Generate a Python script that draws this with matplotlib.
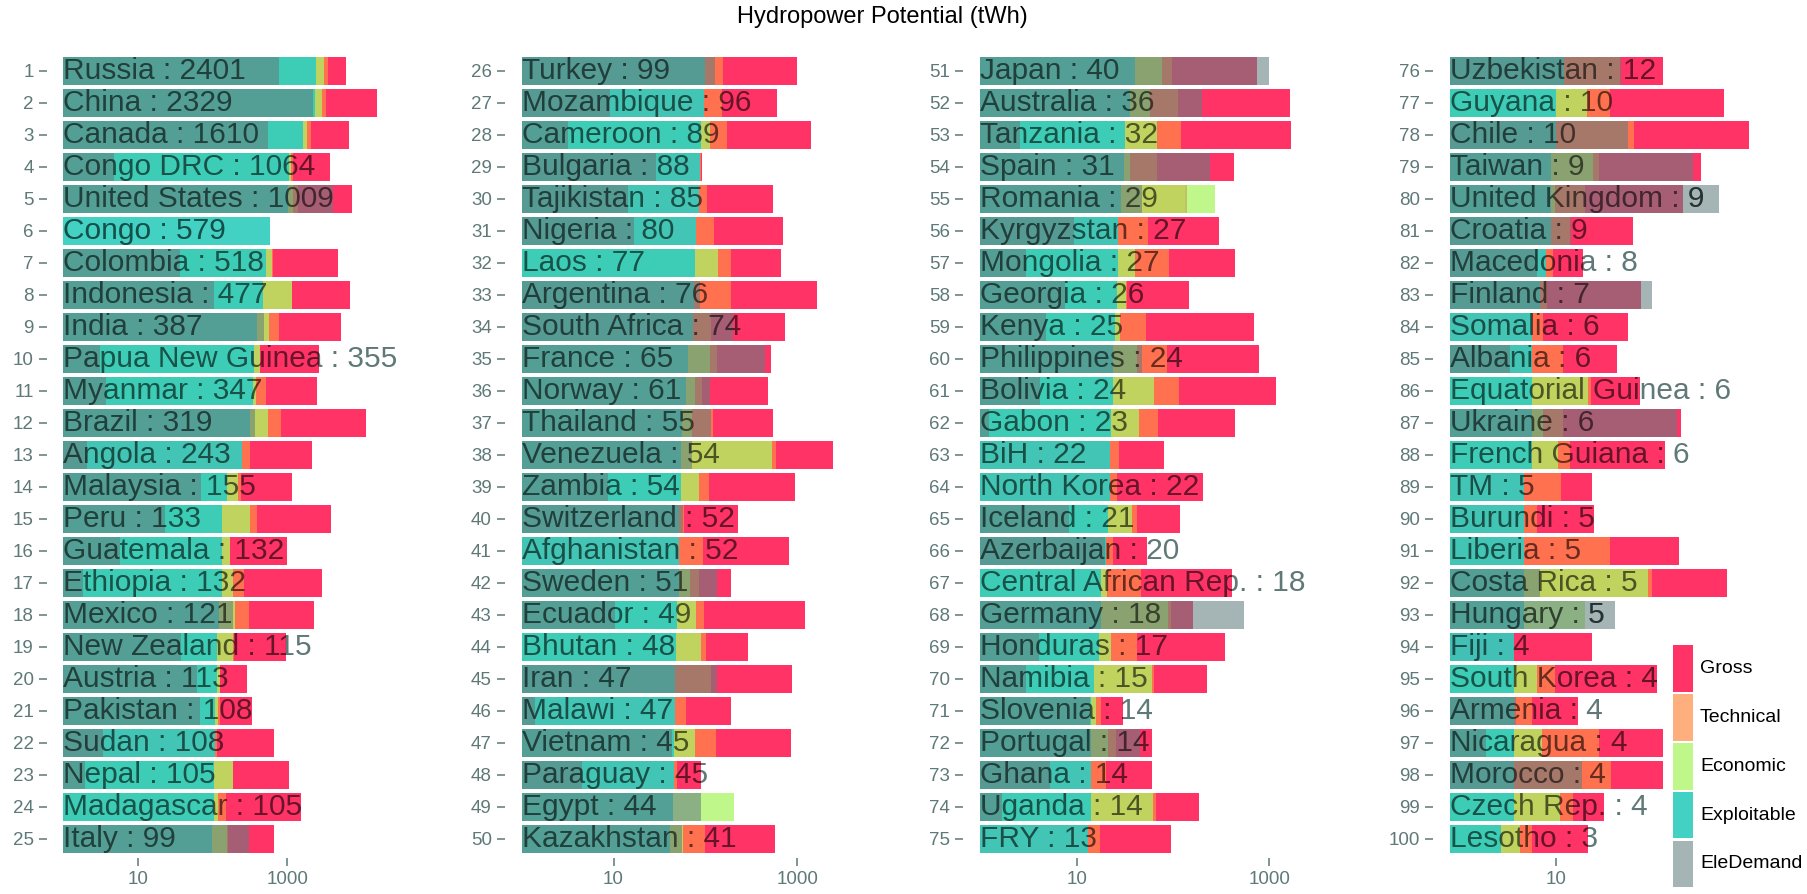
import matplotlib
matplotlib.use("Agg")
import matplotlib.pyplot as plt
from matplotlib.patches import Rectangle

plt.rcParams["font.family"] = ["Liberation Sans", "DejaVu Sans"]

# ── data (TWh), ranked by exploitable potential; None = not shown ─────────────
countries = [
    "Russia", "China", "Canada", "Congo DRC", "United States", "Congo", "Colombia",
    "Indonesia", "India", "Papua New Guinea", "Myanmar", "Brazil", "Angola",
    "Malaysia", "Peru", "Guatemala", "Ethiopia", "Mexico", "New Zealand", "Austria",
    "Pakistan", "Sudan", "Nepal", "Madagascar", "Italy",
    "Turkey", "Mozambique", "Cameroon", "Bulgaria", "Tajikistan", "Nigeria", "Laos",
    "Argentina", "South Africa", "France", "Norway", "Thailand", "Venezuela",
    "Zambia", "Switzerland", "Afghanistan", "Sweden", "Ecuador", "Bhutan", "Iran",
    "Malawi", "Vietnam", "Paraguay", "Egypt", "Kazakhstan",
    "Japan", "Australia", "Tanzania", "Spain", "Romania", "Kyrgyzstan", "Mongolia",
    "Georgia", "Kenya", "Philippines", "Bolivia", "Gabon", "BiH", "North Korea",
    "Iceland", "Azerbaijan", "Central African Rep.", "Germany", "Honduras",
    "Namibia", "Slovenia", "Portugal", "Ghana", "Uganda", "FRY",
    "Uzbekistan", "Guyana", "Chile", "Taiwan", "United Kingdom", "Croatia",
    "Macedonia", "Finland", "Somalia", "Albania", "Equatorial Guinea", "Ukraine",
    "French Guiana", "TM", "Burundi", "Liberia", "Costa Rica", "Hungary", "Fiji",
    "South Korea", "Armenia", "Nicaragua", "Morocco", "Czech Rep.", "Lesotho",
]
exploitable = [
    2401, 2329, 1610, 1064, 1009, 579, 518, 477, 387, 355, 347, 319, 243, 155, 133,
    132, 132, 121, 115, 113, 108, 108, 105, 105, 99,
    99, 96, 89, 88, 85, 80, 77, 76, 74, 65, 61, 55, 54, 54, 52, 52, 51, 49, 48, 47,
    47, 45, 45, 44, 41,
    40, 36, 32, 31, 29, 27, 27, 26, 25, 24, 24, 23, 22, 22, 21, 20, 18, 18, 17, 15,
    14, 14, 14, 14, 13,
    12, 10, 10, 9, 9, 9, 8, 7, 6, 6, 6, 6, 6, 5, 5, 5, 5, 5, 4, 4, 4, 4, 4, 4, 3,
]
ele_demand = [
    781, 2183, 545, 4.8, 4130, None, 37, 104, 487, 3.1, 3.7, 368, 2.05, 69, 23,
    5.7, 1.85, 185, 38, 61, 68, 3.4, 1.95, None, 307,
    127, 9.2, 3.2, 29, 14.5, 16.7, None, 87.5, 202, 450, 112, 114, 71, 8.6, 57,
    None, 134, 10.4, None, 135, 1.4, 43, 4.5, 89, 55,
    984, 199, 2.6, 242, 48, 9.4, 3.0, 7.6, 4.8, 47.6, 4.2, 1.24, None, None, 8.4,
    19.6, None, 550, 4.1, 3.0, 13.7, 46, 5.3, 1.7, None,
    40.7, None, 47.4, 198, 345, 14, 6.6, 81, None, 3.7, None, 140, None, None, None,
    None, 7.1, 36, None, None, 4.2, 2.2, 17.5, None, None,
]
economic = [
    3097, 2884, 1815, 1109, 1203, None, 630, 1143, 574, 430, 380, 550, None, 220,
    316, 171, 189, 199, 189, 125, 119, None, 185, 117, 154,
    None, None, 112, None, None, None, 137, None, None, 111, 78, 71, 532, 85, None,
    None, 68, 78.5, 90, None, None, 76.5, None, 204, 57,
    77.5, 58, 67.7, 35.8, 273, None, 40, 32.5, 28, 42.6, 63.5, 44.7, None, None, 38,
    None, 20.5, 89.5, 23, 60, 16, 21, None, 62.5, None,
    None, 19.5, None, 22.5, 9.8, None, None, None, None, None, 20.2, 7.6, 10.5, None,
    None, None, 74, 18.8, None, 6.6, None, 7.3, None, 10.9, 4.6,
]
technical = [
    3505, 3260, 2055, 1203, 1404, None, 640, 1170, 773, 435, 518, 832, 316, 237,
    388, 173, 263, 310, 191, 127, 126, 113, 187, 151, 162,
    154, 151, 171, 90, 105, 125, 190, 189, 114, 133, 93, 120, 588, 110, 58, 95, 86,
    97, 102, 114, 61.5, 130, 48.7, None, 99,
    97, 112, 121, 69, 133, 55, 91, 33, 52.5, 86, 115, 70, 27.3, 26, 42.6, 23.6, 47,
    94.6, 42, 63.5, 17.8, 25.6, 20, 66.6, 17.5,
    40, 32.3, 54.4, 25.5, 18.8, 13.7, 9.4, 8.2, 7.6, 11.7, 21.2, 11.7, 13.6, 11.1,
    6.6, 32.3, 81, None, None, 9.8, 5.9, 25.5, 33, 14.4, 6.0,
]
gross = [
    6040, 16040, 6760, 3727, 7420, None, 4720, 6905, 5180, 2683, 2455, 11270, 2162,
    1164, 3837, 979, 2912, 2275, 960, 285, 333, 670, 1064, 1524, 670,
    988, 608, 1403, 93, 541, 707, 667, 1630, 731, 514, 481, 550, 2455, 939, 227,
    815, 192, 1227, 289, 871, 190, 857, 89, None, 578,
    739, 1640, 1665, 433, 139, 303, 440, 148, 699, 787, 1163, 440, 81, 206, 117,
    54, 406, 163, 349, 227, 30, 60.5, 61, 185, 94.6,
    103, 384, 657, 235, 157, 53, 17.9, 63, 47.8, 37.3, 62, 150, 107, 22, 23, 146,
    407, None, 22, 90, 16.2, 103, 103, 28.4, 19.9,
]

# drawn bottom to top
layers = [
    ("Gross", gross, "#FF3366", 1.0),
    ("Technical", technical, "#FF8C46", 0.7),
    ("Economic", economic, "#AAF564", 0.75),
    ("Exploitable", exploitable, "#32CDBE", 0.92),
    ("EleDemand", ele_demand, "#647E7E", 0.58),
]

W, H = 1808, 894
GREY = "#5f7878"
ROWS = 25

# per panel: axes left edge, x pixel where value 1 sits, pixels per decade
panels = [(47, 63.3, 74.7), (505, 521.7, 91.83), (963, 980.3, 96.33),
          (1433, 1450.0, 106.0)]
top_px, bot_px = 51.6, 858.0

fig = plt.figure(figsize=(W / 100, H / 100), dpi=100)

for p, (left, start, dec) in enumerate(panels):
    right = min(left + 390, W - 2)
    ax = fig.add_axes([left / W, 1 - bot_px / H, (right - left) / W,
                       (bot_px - top_px) / H])
    ax.set_xscale("log")
    ax.set_xlim(10 ** ((left - start) / dec), 10 ** ((right - start) / dec))
    ax.set_ylim(ROWS - 0.4, -0.6)
    for s in ax.spines.values():
        s.set_visible(False)
    ax.patch.set_alpha(0)

    idx = range(p * ROWS, (p + 1) * ROWS)
    for name, vals, col, alpha in layers:
        ys = [i - p * ROWS for i in idx if vals[i] is not None]
        vs = [vals[i] for i in idx if vals[i] is not None]
        ax.barh(ys, [v - 1 for v in vs], left=1, height=0.89, color=col,
                alpha=alpha, linewidth=0, zorder=2)

    # label: grey where it runs past the bars, darkened where it sits on them
    row_max = []
    for i in idx:
        y = i - p * ROWS
        label = f"{countries[i]} : {exploitable[i]}"
        ax.text(1, y, label, ha="left", va="center", fontsize=21.5,
                color=GREY, zorder=1.5, clip_on=False)
        vmax = max(v[i] for _, v, _, _ in layers if v[i] is not None)
        row_max.append(vmax)
        box = Rectangle((1, y - 0.445), vmax - 1, 0.89, transform=ax.transData)
        t = ax.text(1, y, label, ha="left", va="center", fontsize=21.5,
                    color="black", alpha=0.6, zorder=5, clip_on=True)
        t.set_clip_path(box)

    ax.set_yticks(range(ROWS), [str(i + 1) for i in idx])
    ticks = [t for t in (10, 1000) if t < max(row_max)]
    ax.set_xticks(ticks, [str(t) for t in ticks])
    ax.xaxis.set_minor_locator(matplotlib.ticker.NullLocator())
    ax.tick_params(axis="both", colors=GREY, labelsize=13.5, length=5.5,
                   width=1.1, pad=4)

fig.text(882 / W, 1 - 23 / H, "Hydropower Potential (tWh)", ha="center",
         va="baseline", fontsize=17, color="black")

# legend, keys stacked Gross (top) .. EleDemand (bottom)
key_x, key_w, key_h, key_top, key_pitch = 1673, 20, 46.7, 645, 48.9
for k, (name, _, col, alpha) in enumerate(layers):
    y0 = key_top + k * key_pitch
    fig.add_artist(Rectangle((key_x / W, 1 - (y0 + key_h) / H), key_w / W,
                             key_h / H, transform=fig.transFigure,
                             facecolor=col, alpha=alpha, linewidth=0))
    fig.text(1700 / W, 1 - (y0 + key_h / 2) / H, name, ha="left",
             va="center", fontsize=14, color="black")

fig.savefig("out.png", dpi=100)
